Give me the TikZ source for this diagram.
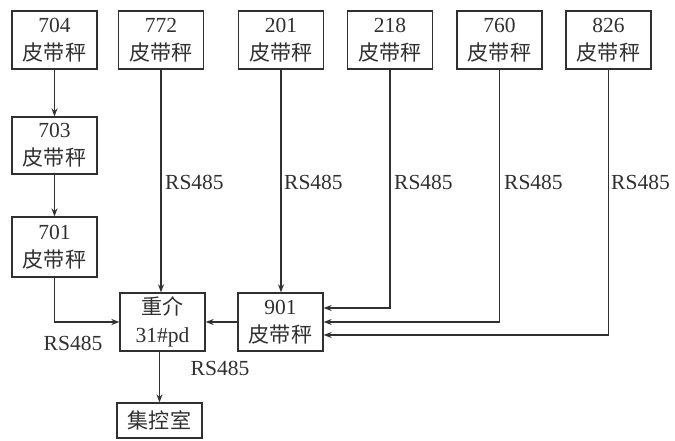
\documentclass[tikz,border=0pt]{standalone}
\usepackage{fontspec}
\setmainfont{Liberation Serif}
\newfontfamily\cjk{Noto Sans CJK SC}[Scale=0.98]
\usetikzlibrary{arrows.meta,calc}
\newcommand\zh[1]{{\cjk #1}}
\definecolor{ink}{HTML}{303030}
\tikzset{
  box/.style={draw=ink,line width=1.3pt,rectangle,minimum width=85pt,minimum height=58pt,
    inner sep=0pt,align=center,text=ink,font=\fontsize{21.5}{28}\selectfont},
  arr/.style={draw=ink,line width=1.3pt,-{Stealth[length=8pt,width=6pt]}},
  lbl/.style={text=ink,font=\fontsize{21.5}{26}\selectfont,inner sep=0pt}
}
\begin{document}
\begin{tikzpicture}[x=1pt,y=-1pt]
\useasboundingbox (0,0) rectangle (675,441);
\node[box] (b704) at (54.5,40) {704\\\zh{皮带秤}};
\node[box] (b772) at (161,40) {772\\\zh{皮带秤}};
\node[box] (b201) at (281,40) {201\\\zh{皮带秤}};
\node[box] (b218) at (390,40) {218\\\zh{皮带秤}};
\node[box] (b760) at (499.5,40) {760\\\zh{皮带秤}};
\node[box] (b826) at (608.5,40) {826\\\zh{皮带秤}};
\node[box,minimum height=57pt] (b703) at (54.5,145.5) {703\\\zh{皮带秤}};
\node[box,minimum height=60pt] (b701) at (54.5,247) {701\\\zh{皮带秤}};
\node[box] (zj) at (162.5,322) {\zh{重介}\\31\#pd};
\node[box] (b901) at (280.5,322) {901\\\zh{皮带秤}};
\node[box,minimum height=35pt] (jk) at (159.5,420.5) {\zh{集控室}};

\draw[arr] (b704) -- (b703);
\draw[arr] (b703) -- (b701);
\draw[arr] (b701.south) |- (zj.west);
\draw[arr] (b772.south) -- (b772.south |- zj.north);
\draw[arr] (b201.south) -- (b201.south |- b901.north);
\draw[arr] (b218.south) |- ($(b901.east)+(0,-14)$);
\draw[arr] (b760.south) |- (b901.east);
\draw[arr] (b826.south) |- ($(b901.east)+(0,13)$);
\draw[arr] (b901.west) -- (zj.east);
\draw[arr] (zj.south -| jk.north) -- (jk.north);

\node[lbl,anchor=west] (l1) at (165,182) {RS485};
\node[lbl,anchor=west] (l2) at (284,182) {RS485};
\node[lbl,anchor=west] (l3) at (394,182) {RS485};
\node[lbl,anchor=west] (l4) at (504,182) {RS485};
\node[lbl,anchor=west] (l5) at (611,182) {RS485};
\node[lbl] (l6) at (73,343) {RS485};
\node[lbl] (l7) at (220,368) {RS485};
\end{tikzpicture}
\end{document}
